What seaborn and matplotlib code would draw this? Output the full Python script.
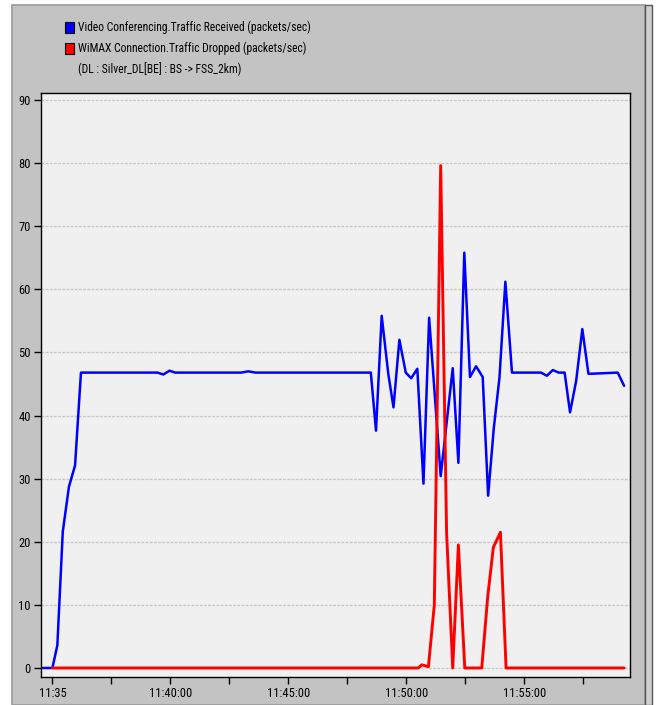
import matplotlib
matplotlib.use("Agg")
import matplotlib.pyplot as plt
import seaborn as sns
import pandas as pd
from matplotlib.patches import Rectangle, Patch
from matplotlib import font_manager

# ---- data (minutes after 11:35) ----
blue_t = [-0.49, 0.0, 0.21, 0.44, 0.70, 0.96, 1.21, 4.45, 4.70, 4.96, 5.2, 8.0, 8.3, 8.6,
          13.49, 13.71, 13.95, 14.23, 14.45, 14.70, 14.97, 15.20, 15.46, 15.72, 15.96,
          16.45, 16.96, 17.20, 17.45, 17.69, 17.95, 18.23, 18.46, 18.70, 18.94, 19.19,
          19.47, 20.70, 20.95, 21.20, 21.45, 21.70, 21.93, 22.19, 22.45, 22.71, 23.95, 24.22]
blue_v = [0, 0, 3.6, 21.6, 28.7, 32.1, 46.8, 46.8, 46.5, 47.1, 46.8, 46.8, 47.0, 46.8,
          46.8, 37.6, 55.8, 46.6, 41.3, 52.0, 46.8, 45.9, 47.4, 29.2, 55.5,
          30.4, 47.5, 32.5, 65.8, 46.1, 47.8, 46.1, 27.3, 38.0, 46.0, 61.2,
          46.8, 46.8, 46.3, 47.2, 46.8, 46.8, 40.5, 45.5, 53.7, 46.6, 46.8, 44.7]

red_t = [0.0, 15.5, 15.65, 15.93, 16.18, 16.45, 16.70, 16.96, 17.20, 17.47, 18.19,
         18.44, 18.68, 18.98, 19.22, 24.22]
red_v = [0, 0, 0.5, 0.2, 10.0, 79.6, 21.4, 0, 19.5, 0, 0, 11.2, 19.1, 21.5, 0, 0]

series_blue = "Video Conferencing.Traffic Received (packets/sec)"
series_red = "WiMAX Connection.Traffic Dropped (packets/sec)"
series_red_sub = "(DL : Silver_DL[BE] : BS -> FSS_2km)"

x_ticks = [0, 5, 10, 15, 20]
x_tick_labels = ["11:35", "11:40:00", "11:45:00", "11:50:00", "11:55:00"]
x_minor = [2.5, 7.5, 12.5, 17.5, 22.5]
y_ticks = [0, 10, 20, 30, 40, 50, 60, 70, 80, 90]

df_blue = pd.DataFrame({"t": blue_t, "v": blue_v})
df_red = pd.DataFrame({"t": red_t, "v": red_v})

sns.set_theme(style="white")

# pick a narrow font if one is installed
names = {f.name for f in font_manager.fontManager.ttflist}
narrow = None
for cand in ["Liberation Sans Narrow", "Roboto Condensed", "Open Sans Condensed",
             "DejaVu Sans Condensed", "Noto Sans Condensed"]:
    if cand in names:
        narrow = cand
        break
if narrow is None:
    plt.rcParams["font.family"] = ["DejaVu Sans"]
    plt.rcParams["font.stretch"] = "condensed"
else:
    plt.rcParams["font.family"] = [narrow, "DejaVu Sans"]
plt.rcParams["text.color"] = "black"

W, H = 657, 705
fig = plt.figure(figsize=(W / 100, H / 100), dpi=100)
fig.patch.set_facecolor("white")

# outer gray panel
fig.patches.append(Rectangle((12 / W, 0), (645 - 12) / W, 1 - 5 / H, transform=fig.transFigure,
                             facecolor="#c3c3c3", edgecolor="#9a9a9a", linewidth=1.2, zorder=-2))
fig.patches.append(Rectangle((645 / W, 0), 7 / W, 1 - 5 / H, transform=fig.transFigure,
                             facecolor="#d0d0d0", edgecolor="#555555", linewidth=1.0, zorder=-2))

left, right, top, bottom = 40.5, 630, 93, 677
ax = fig.add_axes([left / W, 1 - bottom / H, (right - left) / W, (bottom - top) / H])
ax.set_zorder(2)
ax.set_facecolor("#f0f0f0")

sns.lineplot(data=df_blue, x="t", y="v", ax=ax, color="#0000ff", linewidth=1.8,
             estimator=None, sort=False, legend=False)
sns.lineplot(data=df_red, x="t", y="v", ax=ax, color="#ff0000", linewidth=2.1,
             estimator=None, sort=False, legend=False)

ax.set_xlim(-0.504, 24.47)
ax.set_ylim(-1.43, 91.1)
ax.set_xlabel("")
ax.set_ylabel("")

ax.set_yticks(y_ticks)
ax.set_yticklabels([str(v) for v in y_ticks])
ax.set_xticks(x_ticks)
ax.set_xticklabels(x_tick_labels)
ax.set_xticks(x_minor, minor=True)

for yv in y_ticks:
    ax.axhline(yv, color="#c8c8c8", linewidth=1.0, linestyle=(0, (2, 1)), zorder=0.5)

for s in ax.spines.values():
    s.set_color("black")
    s.set_linewidth(1.0)

ax.tick_params(axis="both", which="both", direction="out", length=5, width=1,
               color="black", labelcolor="black", labelsize=9.0,
               bottom=True, left=True, top=False, right=False)
ax.tick_params(axis="y", pad=2)
ax.tick_params(axis="x", pad=2.5)

handles = [Patch(facecolor="#0000ff", edgecolor="black", linewidth=0.8, label=series_blue),
           Patch(facecolor="#ff0000", edgecolor="black", linewidth=0.8, label=series_red),
           Patch(facecolor="none", edgecolor="none", label=series_red_sub)]
leg = fig.legend(handles=handles, loc="upper left", bbox_to_anchor=(65 / W, 1 - 21 / H),
                 frameon=False, fontsize=8.4, handlelength=0.8, handleheight=1.1,
                 handletextpad=0.35, labelspacing=0.62, borderaxespad=0, borderpad=0)
for t in leg.get_texts():
    t.set_color("black")

fig.savefig("out.png", dpi=100)
